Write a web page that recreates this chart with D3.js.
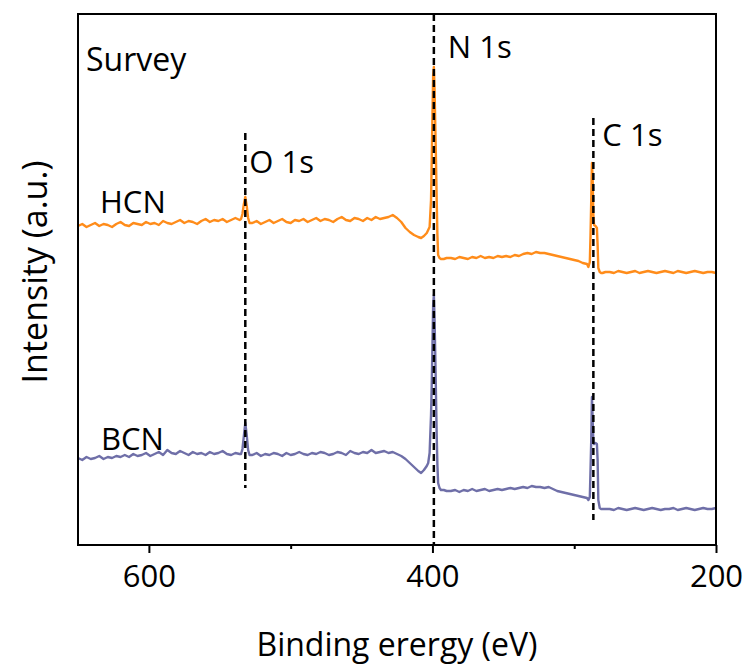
<!DOCTYPE html>
<html><head><meta charset="utf-8">
<script src="https://cdn.jsdelivr.net/npm/d3@7"></script>
<style>body{margin:0;background:#fff}svg{display:block}text{font-family:"Open Sans",sans-serif;fill:#000}</style>
</head><body><svg id="c" width="747" height="664"></svg>
<script>
// Binding energy (eV)
const energy = [
 650,647,644,641,638,635,632,629,626,623,620,617,614,611,608,605,602,599,596,593,590,587,584,581,578,575,572,569,566,563,560,557,554,551,548,545,542,539,536,
 535,534,533,532,531,530,529,
 527,524,521,518,515,512,509,506,503,500,497,494,491,488,485,482,479,476,473,470,467,464,461,458,455,452,449,446,443,440,437,434,431,428,425,422,419,416,413,410,
 408,406,404,403,402,401,400.5,400,399.5,399,398.5,398,397.5,397,396.5,396,395,394,392,390,
 387,384,381,378,375,372,369,366,363,360,357,354,351,348,345,342,339,336,333,330,327,324,321,318,315,312,309,306,303,300,297,294,291,
 290,289,288.5,288,287.5,287,286.5,286,285,284,283.5,283,282,281,280,278,
 275,272,269,266,263,260,257,254,251,248,245,242,239,236,233,230,227,224,221,218,215,212,209,206,203,200
];
// Intensity (a.u., offset traces)
const hcn = [
 319,321,318,320,322,319,321,320,318,321, 323,320,319,322,321,320,323,321,322,320, 324,322,321,323,325,322,324,323,321,324, 326,323,325,324,326,323,325,327,325,
 326,331,341,348,339,327,322,
 322,324,321,323,325,322,324,326,323,322, 325,324,326,323,325,327,324,326,325,323, 326,328,325,324,327,326,324,327,325,328, 326,327,328,330,327,323,317,313,310,308,
 307,309,312,315,318,345,385,430,470,478,455,420,385,345,310,290,287,286,286,287,
 287,286,288,287,286,288,287,289,287,288, 287,289,288,289,288,290,289,291,292,291, 293,292,292,291,290,289,288,287,286,285, 284,282,281,
 278,283,310,345,382,365,330,320,319,317,300,277,273,272,272,273,
 273,272,274,273,272,273,274,272,273,274, 273,272,273,274,273,272,274,273,272,273, 274,273,272,273,273,272
];
const bcn = [
 87,85,88,86,87,89,86,88,87,89, 88,90,88,91,89,90,92,89,91,93, 90,95,92,91,94,92,90,93,91,92, 90,93,91,92,94,91,90,92,91,
 91,96,109,122,110,95,90,
 90,92,89,91,90,92,91,89,92,90, 91,93,91,90,92,91,93,92,90,91, 93,92,90,94,92,91,93,92,95,92, 93,94,92,93,91,89,86,82,78,74,
 72,75,79,82,92,130,160,200,240,250,225,190,150,110,80,62,57,55,55,54,
 54,55,53,55,54,56,54,55,56,54, 55,56,55,56,57,56,57,58,57,59, 58,58,57,58,56,54,53,52,51,50, 49,48,47,
 45,48,75,105,148,125,103,101,102,101,85,45,37,36,36,36,
 36,35,37,36,35,36,37,36,35,36, 37,36,35,36,36,37,35,36,37,36, 35,36,37,36,36,37
];
const seriesNames = ["HCN", "BCN"];
const seriesColors = ["#ff8c1a", "#6f6fa8"];
// peak reference lines: label, energy, top and bottom intensity
const peakLabels = ["O 1s", "N 1s", "C 1s"];
const peakEnergy = [532, 399, 286.5];
const peakTop = [412, 531, 427];
const peakBottom = [57, 0, 25];
const majorTicks = [600, 400, 200];
const minorTicks = [500, 300];

const svg = d3.select("#c");
const L = 78, R = 716, T = 14, B = 545;
const x = d3.scaleLinear().domain([650, 200]).range([L, R]);
const y = d3.scaleLinear().domain([0, 531]).range([B, T]);

const line = d3.line().x((d, i) => x(energy[i])).y(d => y(d));
[hcn, bcn].forEach((s, k) => {
  svg.append("path").attr("d", line(s)).attr("fill", "none")
    .attr("stroke", seriesColors[k]).attr("stroke-width", 2.4).attr("stroke-linejoin", "round");
});

// dashed peak lines
peakEnergy.forEach((e, i) => {
  svg.append("line").attr("x1", x(e)).attr("x2", x(e))
    .attr("y1", y(peakTop[i])).attr("y2", y(peakBottom[i]))
    .attr("stroke", "#000").attr("stroke-width", 2.5).attr("stroke-dasharray", "7,4");
});
const labOff = [[4, 40], [14, 44], [9, 28]];
peakLabels.forEach((t, i) => {
  svg.append("text").attr("x", x(peakEnergy[i]) + labOff[i][0]).attr("y", y(peakTop[i]) + labOff[i][1])
    .attr("font-size", 31).text(t);
});
// series labels
svg.append("text").attr("x", 100).attr("y", 213).attr("font-size", 31).text(seriesNames[0]);
svg.append("text").attr("x", 101).attr("y", 450).attr("font-size", 31).text(seriesNames[1]);
svg.append("text").attr("x", 86).attr("y", 71).attr("font-size", 32).text("Survey");

// frame
svg.append("rect").attr("x", L).attr("y", T).attr("width", R - L).attr("height", B - T)
  .attr("fill", "none").attr("stroke", "#000").attr("stroke-width", 2);

// axes
const ax = svg.append("g").attr("transform", `translate(0,${B})`)
  .call(d3.axisBottom(x).tickValues(majorTicks).tickSize(8).tickPadding(12).tickFormat(d3.format("d")));
ax.select(".domain").remove();
ax.selectAll("line").attr("stroke-width", 2);
ax.selectAll("text").attr("font-size", 31).attr("font-family", "Open Sans");
const ax2 = svg.append("g").attr("transform", `translate(0,${B})`)
  .call(d3.axisBottom(x).tickValues(minorTicks).tickSize(4).tickFormat(""));
ax2.select(".domain").remove();
ax2.selectAll("line").attr("stroke-width", 2);

svg.append("text").attr("x", (L + R) / 2).attr("y", 656).attr("text-anchor", "middle")
  .attr("font-size", 32).text("Binding erergy (eV)");
svg.append("text").attr("transform", `translate(47,272) rotate(-90)`)
  .attr("text-anchor", "middle").attr("font-size", 34).text("Intensity (a.u.)");
</script></body></html>
